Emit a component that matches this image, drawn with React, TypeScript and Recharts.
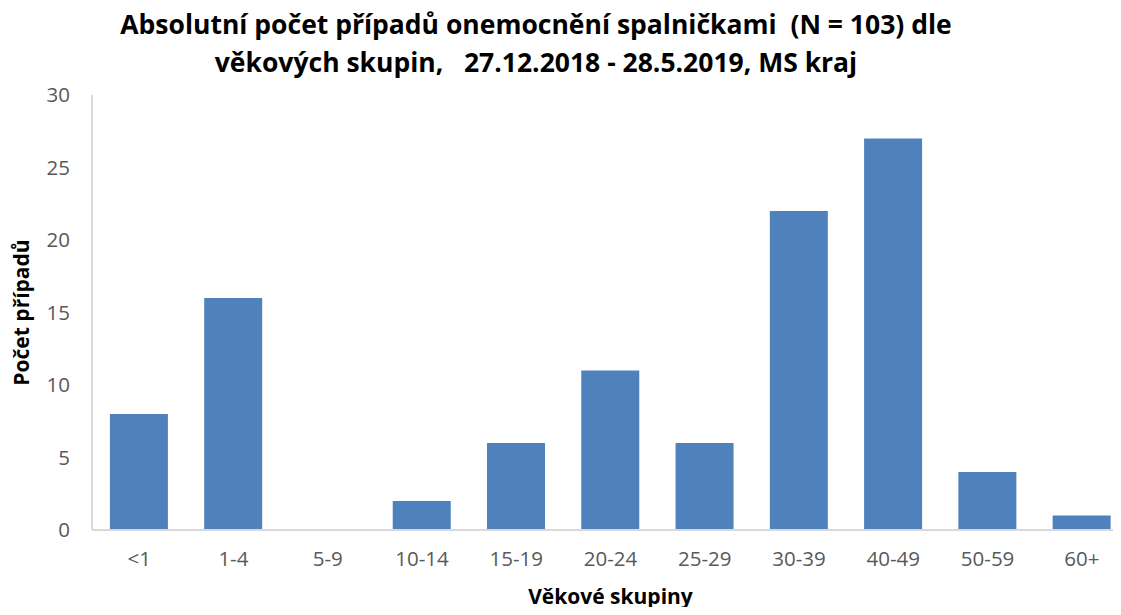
import { BarChart, Bar, XAxis, YAxis } from 'recharts'

const categories = ['<1', '1-4', '5-9', '10-14', '15-19', '20-24', '25-29', '30-39', '40-49', '50-59', '60+']
const cases = [8, 16, 0, 2, 6, 11, 6, 22, 27, 4, 1]
const yTicks = [0, 5, 10, 15, 20, 25, 30]

const data = categories.map((group, i) => ({ group, cases: cases[i] }))

const FONT = '"Open Sans", sans-serif'

export default function App() {
  return (
    <div style={{ position: 'relative', width: 1121, height: 615, margin: -8, overflow: 'hidden', background: '#fff', fontFamily: FONT }}>
      <div
        style={{
          position: 'absolute',
          top: 5,
          left: 0,
          width: 1072,
          textAlign: 'center',
          fontWeight: 700,
          fontSize: 26.5,
          lineHeight: '38px',
          color: '#000',
          whiteSpace: 'nowrap',
        }}
      >
        Absolutní počet případů onemocnění spalničkami&nbsp; (N = 103) dle
        <br />
        věkových skupin,&nbsp;&nbsp; 27.12.2018 - 28.5.2019, MS kraj
      </div>
      <BarChart
        width={1140}
        height={615}
        data={data}
        margin={{ top: 95, right: 11, bottom: 45, left: 0 }}
        barCategoryGap="19%"
      >
        <XAxis
          dataKey="group"
          height={40}
          axisLine={{ stroke: '#d9d9d9', strokeWidth: 2 }}
          tickLine={false}
          tick={{ fill: '#595959', fontSize: 20.5, fontFamily: FONT }}
          tickMargin={15}
          interval={0}
          label={{ value: 'Věkové skupiny', position: 'bottom', offset: 19, fill: '#000', fontSize: 21, fontWeight: 700, fontFamily: FONT }}
        />
        <YAxis
          width={92}
          domain={[0, 30]}
          ticks={yTicks}
          axisLine={{ stroke: '#d9d9d9', strokeWidth: 2 }}
          tickLine={false}
          tickMargin={16}
          tick={{ fill: '#595959', fontSize: 20.5, fontFamily: FONT }}
          label={{ value: 'Počet případů', angle: -90, position: 'insideLeft', offset: 22, fill: '#000', fontSize: 21, fontWeight: 700, fontFamily: FONT, style: { textAnchor: 'middle' } }}
        />
        <Bar dataKey="cases" fill="#4f81bd" isAnimationActive={false} />
      </BarChart>
    </div>
  )
}
